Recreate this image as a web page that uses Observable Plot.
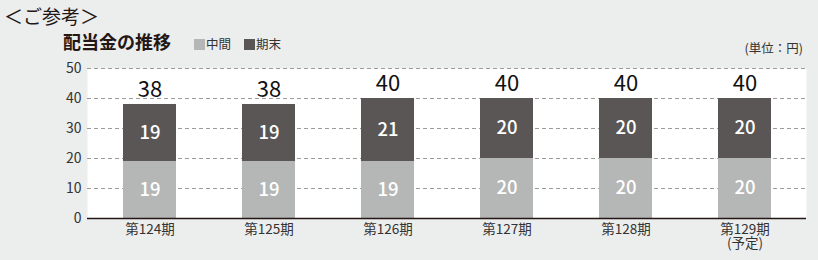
<!DOCTYPE html>
<html lang="ja">
<head>
<meta charset="utf-8">
<script src="https://cdn.jsdelivr.net/npm/d3@7"></script>
<script src="https://cdn.jsdelivr.net/npm/@observablehq/plot@0.6"></script>
<style>
  html, body { margin: 0; padding: 0; background: #eceded; }
  body { width: 818px; height: 260px; overflow: hidden; font-family: "Noto Sans CJK JP", "Noto Sans", sans-serif; color: #231815; }
  #head { position: relative; height: 52px; }
  #head > span { position: absolute; white-space: nowrap; }
  .title { left: 4px; top: 6px; font-size: 19px; line-height: 19px; }
  .subtitle { left: 63px; top: 32px; font-size: 18px; line-height: 18px; font-weight: bold; }
  .sw { display: inline-block; width: 11px; height: 11px; vertical-align: -1px; margin-right: 1px; }
  .legend { top: 37px; font-size: 12.5px; line-height: 13px; color: #333; }
  .unit { right: 15px; top: 41px; font-size: 12.5px; line-height: 13px; color: #333; }
  #chart svg { display: block; }
</style>
</head>
<body>
<div id="head">
  <span class="title">＜ご参考＞</span>
  <span class="subtitle">配当金の推移</span>
  <span class="legend" id="lg1" style="left:194px"></span>
  <span class="legend" id="lg2" style="left:244px"></span>
  <span class="unit">(単位：円)</span>
</div>
<div id="chart"></div>
<script>
// Dividend per share by fiscal period
const periods = ["第124期", "第125期", "第126期", "第127期", "第128期", "第129期\n(予定)"];
const interim = [19, 19, 19, 20, 20, 20];   // 中間
const yearEnd = [19, 19, 21, 20, 20, 20];   // 期末
const seriesNames = ["中間", "期末"];
const seriesColors = ["#b5b6b6", "#595655"];
const yTicks = [0, 10, 20, 30, 40, 50];

// Long-format rows for stacking (interim at the bottom)
const rows = [
  ...periods.map((p, i) => ({period: p, type: seriesNames[0], value: interim[i]})),
  ...periods.map((p, i) => ({period: p, type: seriesNames[1], value: yearEnd[i]}))
];
const totals = periods.map((p, i) => ({period: p, total: interim[i] + yearEnd[i]}));

// Legend swatches
seriesNames.forEach((name, i) => {
  const el = document.getElementById("lg" + (i + 1));
  el.innerHTML = `<span class="sw" style="background:${seriesColors[i]}"></span>${name}`;
});

const chart = Plot.plot({
  width: 818,
  height: 208,
  marginTop: 16,
  marginBottom: 42,
  marginLeft: 87,
  marginRight: 12,
  style: {background: "transparent", fontFamily: "\"Noto Sans CJK JP\", \"Noto Sans\", sans-serif", color: "#333"},
  x: {domain: periods, paddingInner: 0.556, paddingOuter: 0.278, align: 0.5, label: null},
  y: {domain: [0, 50], label: null},
  color: {domain: seriesNames, range: seriesColors},
  marks: [
    Plot.frame({fill: "white", stroke: "none"}),
    Plot.ruleY(yTicks.filter(d => d > 0), {stroke: "#9c9c9c", strokeDasharray: "4,3", strokeWidth: 1}),
    Plot.barY(rows, {x: "period", y: "value", fill: "type"}),
    Plot.text(rows, Plot.stackY({x: "period", y: "value", text: "value", fill: "white", fontSize: 18.5, fontWeight: 500})),
    Plot.text(totals, {x: "period", y: "total", text: "total", dy: -15, fill: "#111", fontSize: 22}),
    Plot.ruleY([0], {stroke: "#231815", strokeWidth: 1.5}),
    Plot.axisY({ticks: yTicks, tickSize: 0, tickPadding: 6, fontSize: 14, label: null}),
    Plot.axisX({tickSize: 0, tickPadding: 5, fontSize: 13.5, label: null, lineHeight: 1.08})
  ]
});
document.getElementById("chart").append(chart);
</script>
</body>
</html>
